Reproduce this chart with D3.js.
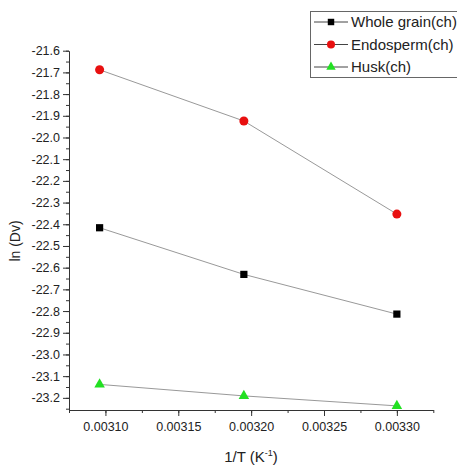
<!DOCTYPE html>
<html><head><meta charset="utf-8">
<script src="https://cdn.jsdelivr.net/npm/d3@7"></script>
<style>body{margin:0;background:#fff}svg{display:block}text{font-family:"Liberation Sans",Arial,sans-serif;fill:#222}</style>
</head><body><svg id="c" width="457" height="466"></svg>
<script>
const invT = [0.003096, 0.003195, 0.003300];
const seriesNames = ["Whole grain(ch)", "Endosperm(ch)", "Husk(ch)"];
const wholeGrain = [-22.416, -22.631, -22.814];
const endosperm = [-21.688, -21.924, -22.353];
const husk = [-23.138, -23.191, -23.237];
const yTickValues = [-21.6,-21.7,-21.8,-21.9,-22.0,-22.1,-22.2,-22.3,-22.4,-22.5,-22.6,-22.7,-22.8,-22.9,-23.0,-23.1,-23.2];
const xTickValues = [0.00310, 0.00315, 0.00320, 0.00325, 0.00330];

const svg = d3.select("#c");
const x = d3.scaleLinear().domain([0.003075, 0.003325]).range([69, 433.3]);
const y = d3.scaleLinear().domain([-21.6, -23.256]).range([50.7, 410]);

// minor ticks
const yMinor = d3.range(0, 34).map(i => -21.6 - i*0.05).filter(v => v >= -23.256);
const xMinor = d3.range(0, 11).map(i => 0.003075 + i*0.000025);

svg.append("g").attr("transform","translate(69,0)")
  .call(d3.axisLeft(y).tickValues(yMinor).tickSize(3).tickFormat(""))
  .call(g=>g.select(".domain").remove());
svg.append("g").attr("transform","translate(0,410)")
  .call(d3.axisBottom(x).tickValues(xMinor).tickSize(3).tickFormat(""))
  .call(g=>g.select(".domain").remove());

const yAxis = svg.append("g").attr("transform","translate(69,0)")
  .call(d3.axisLeft(y).tickValues(yTickValues).tickSize(6).tickSizeOuter(0).tickPadding(3).tickFormat(d3.format(".1f")));
const xAxis = svg.append("g").attr("transform","translate(0,410)")
  .call(d3.axisBottom(x).tickValues(xTickValues).tickSize(6).tickSizeOuter(0).tickPadding(6).tickFormat(d3.format(".5f")));
svg.selectAll(".tick text").style("font-size","12.5px").attr("fill","#333").style("font-family","'Liberation Sans',Arial,sans-serif");
svg.selectAll(".domain, .tick line").attr("stroke","#333");
svg.selectAll("g").attr("font-family", null);

// fix minus sign formatting to hyphen
yAxis.selectAll(".tick text").text(d => d3.format(".1f")(d).replace("\u2212","-"));

// axis titles
svg.append("text").attr("transform","translate(20,241) rotate(-90)").attr("text-anchor","middle")
  .style("font-size","14px").text("ln (Dv)");
const xt = svg.append("text").attr("x",251).attr("y",462).attr("text-anchor","middle").style("font-size","15px");
xt.append("tspan").text("1/T (K");
xt.append("tspan").attr("dy",-6).style("font-size","9px").text("-1");
xt.append("tspan").attr("dy",6).text(")");

const series = [
  {name: seriesNames[0], vals: wholeGrain, color:"#000", shape:"square"},
  {name: seriesNames[1], vals: endosperm, color:"#e81010", shape:"circle"},
  {name: seriesNames[2], vals: husk, color:"#22e022", shape:"triangle"}
];
const sym = {square: d3.symbolSquare, circle: d3.symbolCircle, triangle: d3.symbolTriangle};
const symSize = {square: 52, circle: 64, triangle: 48};
const line = d3.line().x((d,i)=>x(invT[i])).y(d=>y(d));

series.forEach(s => {
  svg.append("path").attr("d", line(s.vals)).attr("fill","none").attr("stroke","#999").attr("stroke-width",1);
  svg.selectAll(null).data(s.vals).enter().append("path")
    .attr("transform",(d,i)=>`translate(${x(invT[i])},${y(d)})`)
    .attr("d", d3.symbol().type(sym[s.shape]).size(symSize[s.shape])())
    .attr("fill", s.color);
});

// legend
const lg = svg.append("g");
lg.append("rect").attr("x",310.5).attr("y",11.5).attr("width",150).attr("height",66)
  .attr("fill","#fff").attr("stroke","#666").attr("stroke-width",1);
series.forEach((s,i) => {
  const cy = 22 + i*22.5;
  lg.append("line").attr("x1",314).attr("x2",348).attr("y1",cy).attr("y2",cy).attr("stroke","#444");
  lg.append("path").attr("transform",`translate(331,${cy})`)
    .attr("d", d3.symbol().type(sym[s.shape]).size(symSize[s.shape]*0.8)()).attr("fill", s.color);
  lg.append("text").attr("x",351).attr("y",cy+5).style("font-size","15px").attr("fill","#222").text(s.name);
});
</script></body></html>
